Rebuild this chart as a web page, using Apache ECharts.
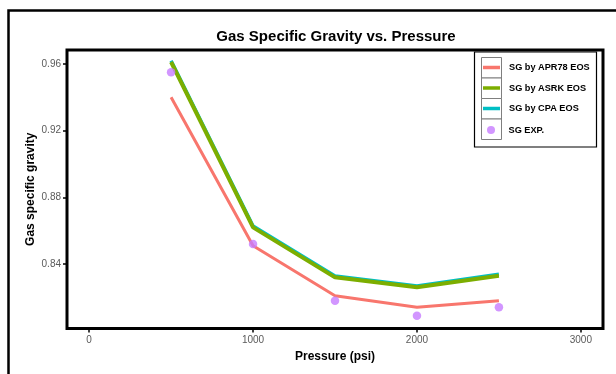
<!DOCTYPE html>
<html>
<head>
<meta charset="utf-8">
<script src="https://cdn.jsdelivr.net/npm/echarts@6/dist/echarts.min.js"></script>
<style>
  html, body { margin: 0; padding: 0; background: #ffffff; }
  #chart { width: 616px; height: 374px; }
</style>
</head>
<body>
<div id="chart"></div>
<script>
// Pressure steps (psi) and specific gravity per method
const pressure = [500, 1000, 1500, 2000, 2500];
const sgApr78 = [0.940, 0.851, 0.821, 0.814, 0.818];
const sgAsrk = [0.9612, 0.862, 0.832, 0.826, 0.833];
const sgCpa = [0.9620, 0.8628, 0.8328, 0.8268, 0.8338];
const sgExp = [0.955, 0.852, 0.818, 0.809, 0.814];

const xTicks = [0, 1000, 2000, 3000];
const yTicks = [0.84, 0.88, 0.92, 0.96];

const seriesNames = ['SG by APR78 EOS', 'SG by ASRK EOS', 'SG by CPA EOS', 'SG EXP.'];
const colors = ['#F8766D', '#7CAE00', '#00BFC4', '#C77CFF'];

const pairs = (ys) => pressure.map((p, i) => [p, ys[i]]);

const FONT = '"Liberation Sans", Arial, sans-serif';

const chart = echarts.init(document.getElementById('chart'), null, { renderer: 'canvas' });

// legend key boxes (grey squares behind each key)
const keyBoxes = [57.5, 78, 98.5, 119].map((y) => ({
  type: 'rect',
  shape: { x: 481.5, y: y, width: 20, height: 20.5 },
  style: { fill: '#ffffff', stroke: '#7f7f7f', lineWidth: 1 },
  z: 5
}));

const legendText = { fontFamily: FONT, fontSize: 9.2, fontWeight: 'bold', color: '#000', lineHeight: 12, padding: [0, 0, 0, 4] };

chart.setOption({
  animation: false,
  backgroundColor: '#ffffff',
  title: {
    text: 'Gas Specific Gravity vs. Pressure',
    left: 331,
    textAlign: 'center',
    top: 24,
    textStyle: { fontFamily: FONT, fontSize: 15, fontWeight: 'bold', color: '#000' }
  },
  grid: {
    left: 67, top: 50, right: 13, bottom: 45.5,
    show: true, borderColor: '#000', borderWidth: 3, backgroundColor: 'transparent'
  },
  xAxis: {
    type: 'value',
    min: -135, max: 3135,
    name: 'Pressure (psi)',
    nameLocation: 'middle',
    nameGap: 22,
    nameMoveOverlap: false,
    nameTextStyle: { fontFamily: FONT, fontSize: 12, fontWeight: 'bold', color: '#000', verticalAlign: 'top' },
    axisLine: { show: false, onZero: false },
    splitLine: { show: false },
    axisTick: { show: true, length: 4, customValues: xTicks, lineStyle: { color: '#000', width: 1.5 } },
    axisLabel: {
      customValues: xTicks, margin: 7, fontFamily: FONT, fontSize: 10, color: '#5a5a5a',
      formatter: (v) => String(v)
    }
  },
  yAxis: {
    type: 'value',
    min: 0.8013, max: 0.9684,
    name: 'Gas specific gravity',
    nameLocation: 'middle',
    nameGap: 30,
    nameRotate: 90,
    nameMoveOverlap: false,
    nameTextStyle: { fontFamily: FONT, fontSize: 12, fontWeight: 'bold', color: '#000' },
    axisLine: { show: false, onZero: false },
    splitLine: { show: false },
    axisTick: { show: true, length: 4, customValues: yTicks, lineStyle: { color: '#000', width: 1.5 } },
    axisLabel: {
      customValues: yTicks, margin: 6, fontFamily: FONT, fontSize: 10, color: '#5a5a5a',
      formatter: (v) => v.toFixed(2)
    }
  },
  legend: [
    {
      data: seriesNames.slice(0, 3),
      orient: 'vertical',
      left: 483, top: 61.5,
      padding: 0,
      itemGap: 8.5,
      itemWidth: 17, itemHeight: 3.5,
      icon: 'rect',
      selectedMode: false,
      textStyle: legendText,
      z: 10
    },
    {
      data: [seriesNames[3]],
      orient: 'vertical',
      left: 487, top: 124,
      padding: 0,
      itemWidth: 17, itemHeight: 8,
      icon: 'circle',
      selectedMode: false,
      textStyle: legendText,
      z: 10
    }
  ],
  graphic: [
    // frame around the whole figure
    {
      type: 'rect',
      shape: { x: 8.5, y: 10.5, width: 700, height: 500 },
      style: { fill: 'transparent', stroke: '#000', lineWidth: 2.5 },
      silent: true
    },
    // legend frame
    {
      type: 'rect',
      shape: { x: 474.5, y: 52, width: 122, height: 95 },
      style: { fill: '#ffffff', stroke: '#000', lineWidth: 1.2 },
      z: 4
    },
    ...keyBoxes
  ],
  series: [
    {
      name: seriesNames[0], type: 'line', data: pairs(sgApr78),
      symbol: 'none', color: colors[0],
      lineStyle: { width: 3, color: colors[0] }, z: 2
    },
    {
      name: seriesNames[2], type: 'line', data: pairs(sgCpa),
      symbol: 'none', color: colors[2],
      lineStyle: { width: 3.5, color: colors[2] }, z: 3
    },
    {
      name: seriesNames[1], type: 'line', data: pairs(sgAsrk),
      symbol: 'none', color: colors[1],
      lineStyle: { width: 4, color: colors[1] }, z: 4
    },
    {
      name: seriesNames[3], type: 'scatter', data: pairs(sgExp),
      symbol: 'circle', symbolSize: 8.5, color: colors[3],
      itemStyle: { color: colors[3] }, z: 5
    }
  ]
});
</script>
</body>
</html>
